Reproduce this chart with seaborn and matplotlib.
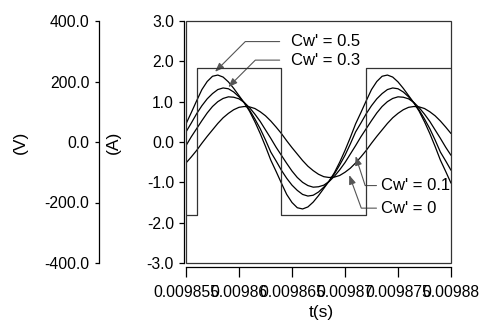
import numpy as np
import pandas as pd
import matplotlib
matplotlib.use("Agg")
import matplotlib.pyplot as plt
import seaborn as sns

# ---------------- data ----------------
t_start = 0.009855          # s, left edge of time axis
t_end = 0.00988             # s
t_us = np.arange(0, 25.01, 0.5)   # sample instants, microseconds after t_start

cw_labels = ["Cw' = 0.5", "Cw' = 0.3", "Cw' = 0.1", "Cw' = 0"]

i_cw05 = [0.45, 0.73, 1.02, 1.30, 1.50, 1.63, 1.66, 1.61, 1.49, 1.33, 1.15, 0.97, 0.76, 0.50, 0.21, -0.11, -0.45,
          -0.73, -1.02, -1.30, -1.50, -1.63, -1.66, -1.61, -1.49, -1.33, -1.15, -0.97, -0.76, -0.50, -0.21, 0.11, 0.45,
          0.73, 1.02, 1.30, 1.50, 1.63, 1.66, 1.61, 1.49, 1.33, 1.15, 0.97, 0.76, 0.50, 0.21, -0.11, -0.45,
          -0.73, -1.02]
i_cw03 = [0.25, 0.47, 0.70, 0.90, 1.07, 1.20, 1.30, 1.34, 1.32, 1.24, 1.12, 0.97, 0.79, 0.57, 0.33, 0.05, -0.25,
          -0.47, -0.70, -0.90, -1.07, -1.20, -1.30, -1.34, -1.32, -1.24, -1.12, -0.97, -0.79, -0.57, -0.33, -0.05, 0.25,
          0.47, 0.70, 0.90, 1.07, 1.20, 1.30, 1.34, 1.32, 1.24, 1.12, 0.97, 0.79, 0.57, 0.33, 0.05, -0.25,
          -0.47, -0.70]
i_cw01 = [-0.09, 0.13, 0.33, 0.53, 0.72, 0.88, 1.00, 1.08, 1.12, 1.11, 1.07, 0.98, 0.85, 0.69, 0.51, 0.30, 0.09,
          -0.13, -0.33, -0.53, -0.72, -0.88, -1.00, -1.08, -1.12, -1.11, -1.07, -0.98, -0.85, -0.69, -0.51, -0.30, -0.09,
          0.13, 0.33, 0.53, 0.72, 0.88, 1.00, 1.08, 1.12, 1.11, 1.07, 0.98, 0.85, 0.69, 0.51, 0.30, 0.09,
          -0.13, -0.33]
i_cw00 = [-0.52, -0.37, -0.21, -0.03, 0.14, 0.30, 0.46, 0.60, 0.71, 0.80, 0.86, 0.88, 0.87, 0.83, 0.75, 0.65, 0.52,
          0.37, 0.21, 0.03, -0.14, -0.30, -0.46, -0.60, -0.71, -0.80, -0.86, -0.88, -0.87, -0.83, -0.75, -0.65, -0.52,
          -0.37, -0.21, -0.03, 0.14, 0.30, 0.46, 0.60, 0.71, 0.80, 0.86, 0.88, 0.87, 0.83, 0.75, 0.65, 0.52,
          0.37, 0.21]

# square-wave voltage: switching instants (us) and levels (V)
v_switch_us = [0.0, 1.0, 9.0, 17.0, 25.0]
v_level = [-241, 246, -241, 246, 246]

x_ticks = [0.009855, 0.00986, 0.009865, 0.00987, 0.009875, 0.00988]
x_tick_labels = ["0.009855", "0.00986", "0.009865", "0.00987", "0.009875", "0.00988"]
a_ticks = [-3, -2, -1, 0, 1, 2, 3]
v_ticks = [-400, -200, 0, 200, 400]

# annotations: label, text pos (us, A), arrow tip (us, A), angle of leader, gap (pt)
ann_text_us = [9.95, 9.95, 18.35, 18.35]
ann_text_a = [2.49, 2.03, -1.08, -1.64]
ann_tip_us = [2.74, 3.99, 16.0, 15.4]
ann_tip_a = [1.74, 1.36, -0.35, -0.82]
ann_angle = [45, 45, -72, -70]
ann_gap = [8.5, 8.5, 2.9, 2.9]

# ---------------- plot ----------------
sns.set_theme(style="ticks")
plt.rcParams["font.family"] = ["Liberation Sans", "DejaVu Sans"]
plt.rcParams["axes.unicode_minus"] = False

fig = plt.figure(figsize=(4.8, 3.25), dpi=100)
ax = fig.add_axes([186 / 480, 62 / 325, 265 / 480, 242 / 325])
ax.set_facecolor("white")
fig.patch.set_facecolor("white")

time_s = t_start + t_us * 1e-6
frames = []
for lab, vals in zip(cw_labels, [i_cw05, i_cw03, i_cw01, i_cw00]):
    frames.append(pd.DataFrame({"t": time_s, "i": vals, "cw": lab}))
df = pd.concat(frames, ignore_index=True)

sns.lineplot(data=df, x="t", y="i", units="cw", estimator=None, sort=False,
             color="black", lw=0.9, ax=ax, legend=False)

tw = ax.twinx()
v_time = t_start + np.array(v_switch_us) * 1e-6
sns.lineplot(x=v_time, y=v_level, ax=tw, estimator=None, drawstyle="steps-post",
             color="#333333", lw=0.9, legend=False)

ax.set_xlim(t_start, t_end)
ax.set_ylim(-3, 3)
tw.set_ylim(-400, 400)

ax.set_xticks(x_ticks)
ax.set_xticklabels(x_tick_labels)
ax.set_yticks(a_ticks)
ax.set_yticklabels([f"{v:.1f}" for v in a_ticks])
tw.set_yticks(v_ticks)
tw.set_yticklabels([f"{v:.1f}" for v in v_ticks])

# spines
for s in ["top", "right"]:
    ax.spines[s].set_visible(False)
ax.spines["left"].set_position(("outward", 1.44))
ax.spines["bottom"].set_position(("outward", 2.88))
for s in ["left", "bottom"]:
    ax.spines[s].set_color("black")
    ax.spines[s].set_linewidth(0.9)
for s in ["top", "right", "bottom"]:
    tw.spines[s].set_visible(False)
tw.spines["left"].set_visible(True)
tw.spines["left"].set_position(("outward", 62.6))
tw.spines["left"].set_color("black")
tw.spines["left"].set_linewidth(0.9)
tw.yaxis.tick_left()
tw.yaxis.set_label_position("left")

# frame around plotting area
ax.add_patch(plt.Rectangle((0, 0), 1, 1, transform=ax.transAxes, fill=False,
                           lw=0.9, edgecolor="#333333", clip_on=False, zorder=5))

ax.tick_params(axis="y", direction="out", length=3.6, width=0.9, pad=3.6,
               labelsize=11.3, colors="black", left=True)
ax.tick_params(axis="x", direction="out", length=7.2, width=0.9, pad=5.5,
               labelsize=11.3, colors="black", bottom=True)
tw.tick_params(axis="y", direction="out", length=2.9, width=0.9, pad=4,
               labelsize=11.3, colors="black", left=True, right=False,
               labelleft=True, labelright=False)

ax.set_xlabel("t(s)", fontsize=12.5, color="black")
ax.set_ylabel("(A)", fontsize=12.5, color="black")
tw.set_ylabel("(V)", fontsize=12.5, color="black")
ax.xaxis.set_label_coords(0.509, -0.172)
ax.yaxis.set_label_coords(-0.245, 0.5)
tw.yaxis.set_label_coords(-0.596, 0.5)

for k, lab in enumerate(cw_labels):
    ax.annotate(lab,
                xy=(t_start + ann_tip_us[k] * 1e-6, ann_tip_a[k]),
                xytext=(t_start + ann_text_us[k] * 1e-6, ann_text_a[k]),
                textcoords="data", ha="left", va="center", fontsize=12, color="black",
                arrowprops=dict(arrowstyle="-|>,head_length=0.45,head_width=0.17",
                                connectionstyle=f"angle,angleA=0,angleB={ann_angle[k]},rad=0",
                                relpos=(0, 0.5), patchA=None, shrinkA=ann_gap[k], shrinkB=0,
                                color="#555555", lw=0.8),
                zorder=6)

fig.savefig("out.png", dpi=100)
